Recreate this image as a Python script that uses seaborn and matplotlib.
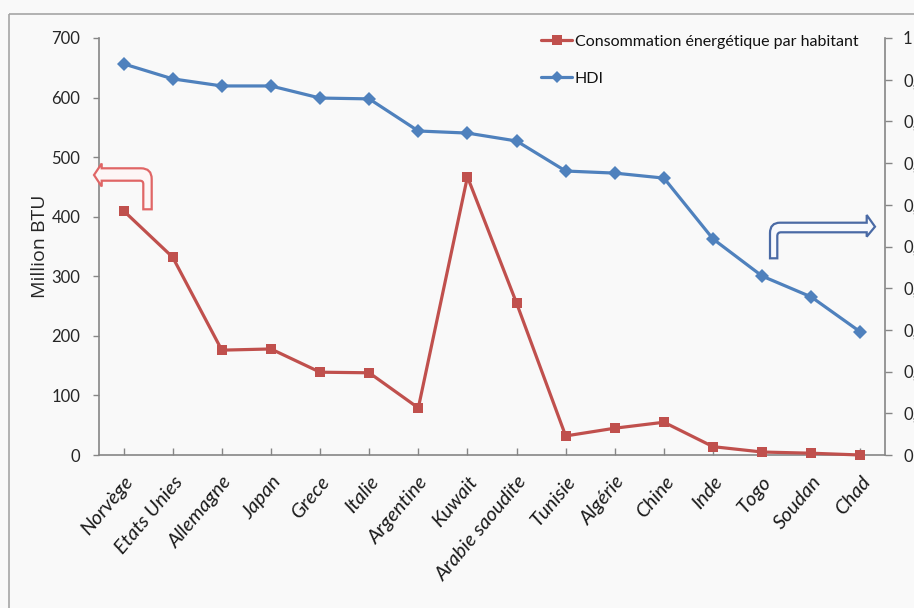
import numpy as np
import pandas as pd
import matplotlib
matplotlib.use("Agg")
import matplotlib.pyplot as plt
import seaborn as sns
from matplotlib.path import Path
from matplotlib.patches import PathPatch, Rectangle
from matplotlib.lines import Line2D
from matplotlib.transforms import Affine2D, ScaledTranslation

# ---- data ----
countries = ["Norvège", "Etats Unies", "Allemagne", "Japan", "Grece", "Italie",
             "Argentine", "Kuwait", "Arabie saoudite", "Tunisie", "Algérie",
             "Chine", "Inde", "Togo", "Soudan", "Chad"]
energy = [410, 332, 176, 178, 139, 138, 79, 467, 255, 32, 45, 55, 14, 5, 3, 0]
hdi = [0.938, 0.902, 0.885, 0.885, 0.856, 0.854, 0.777, 0.772, 0.753,
       0.681, 0.676, 0.664, 0.518, 0.429, 0.379, 0.295]
left_ticks = [0, 100, 200, 300, 400, 500, 600, 700]
right_ticks = [0, 0.1, 0.2, 0.3, 0.4, 0.5, 0.6, 0.7, 0.8, 0.9, 1]
right_tick_labels = ["0", "0,1", "0,2", "0,3", "0,4", "0,5", "0,6", "0,7",
                     "0,8", "0,9", "1"]
energy_label = "Consommation énergétique par habitant"
hdi_label = "HDI"

RED = "#c0504d"
BLUE = "#4f81bd"
AXIS = "#868686"
BG = "#f9f9f9"
TXT = "#262626"

sns.set_theme(style="white")
plt.rcParams["font.family"] = ["Lato", "DejaVu Sans"]

W, H = 914, 608
fig = plt.figure(figsize=(W / 100, H / 100), dpi=100, facecolor=BG)
ax = fig.add_axes([99 / W, 1 - 455 / H, (885 - 99) / W, (455 - 38) / H])
ax.set_facecolor("none")
ax2 = ax.twinx()
ax2.set_facecolor("none")

df = pd.DataFrame({"pos": np.arange(len(countries)), "pays": countries,
                   "energie": energy, "hdi": hdi})

sns.lineplot(data=df, x="pos", y="energie", ax=ax, color=RED, linewidth=2.3,
             marker="s", markersize=7.2, markeredgewidth=0, sort=False,
             clip_on=False, zorder=3)
sns.lineplot(data=df, x="pos", y="hdi", ax=ax2, color=BLUE, linewidth=2.3,
             marker="D", markersize=7, markeredgewidth=0, sort=False,
             clip_on=False, zorder=3)

ax.set_xlim(-0.5, len(countries) - 0.5)
ax.set_ylim(0, 700)
ax2.set_ylim(0, 1)

ax.set_xticks(df["pos"])
ax.set_xticklabels(countries, rotation=50, ha="right", rotation_mode="anchor",
                   fontsize=14.5, style="italic", color="#1a1a1a")
offset = ScaledTranslation(2 / 100, 0, fig.dpi_scale_trans)
for lbl in ax.get_xticklabels():
    lbl.set_transform(lbl.get_transform() + offset)

ax.set_yticks(left_ticks)
ax.set_yticklabels([str(t) for t in left_ticks], fontsize=12, color=TXT)
ax2.set_yticks(right_ticks)
ax2.set_yticklabels(right_tick_labels, fontsize=12, color=TXT)

ax.set_xlabel("")
ax.set_ylabel("Million BTU", fontsize=14, family="Open Sans", color=TXT)
ax.yaxis.set_label_coords((49 - 99) / (885 - 99), 0.5)
ax2.set_ylabel("")

ax.tick_params(axis="x", direction="in", length=5, width=1, color=AXIS,
               pad=13, bottom=True)
ax.tick_params(axis="y", direction="out", length=4, width=1, color=AXIS,
               pad=9.5, left=True)
ax2.tick_params(axis="y", direction="out", length=5, width=1, color=AXIS,
                pad=8, right=True)

for a in (ax, ax2):
    a.spines["top"].set_visible(False)
    for side in ("left", "right", "bottom"):
        a.spines[side].set_color(AXIS)
        a.spines[side].set_linewidth(1.2)
ax.spines["right"].set_visible(False)
ax2.spines["left"].set_visible(False)
ax2.spines["bottom"].set_visible(False)

# ---- legend ----
handles = [
    Line2D([], [], color=RED, lw=2.3, marker="s", markersize=7.2,
           markeredgewidth=0),
    Line2D([], [], color=BLUE, lw=2.3, marker="D", markersize=6,
           markeredgewidth=0),
]
leg = fig.legend(handles, [energy_label, hdi_label], loc="upper left",
                 bbox_to_anchor=(535 / W, 1 - 28 / H), frameon=False,
                 prop={"size": 11.5}, handlelength=1.9,
                 handletextpad=0.2, labelspacing=1.45, borderaxespad=0)
for t in leg.get_texts():
    t.set_color("#111111")

# ---- outer frame and direction arrows (pixel coordinates) ----
px = Affine2D().scale(1 / W, -1 / H).translate(0, 1) + fig.transFigure

fig.add_artist(Rectangle((9, 14), 1200, 900, transform=px, fill=False,
                         edgecolor="#a6a6a6", lw=1.2))

M, L, C, Z = Path.MOVETO, Path.LINETO, Path.CURVE3, Path.CLOSEPOLY

red_verts = [(94, 175), (101.7, 163.5), (101.7, 168.3), (141, 168.3),
             (151.7, 168.3), (151.7, 179), (151.7, 209.3), (143.3, 209.3),
             (143.3, 184), (143.3, 180.7), (140, 180.7), (101.7, 180.7),
             (101.7, 186.5), (94, 175)]
red_codes = [M, L, L, L, C, C, L, L, L, C, C, L, L, Z]
fig.add_artist(PathPatch(Path(red_verts, red_codes), transform=px,
                         facecolor="#fdf6f6", edgecolor="#e06666", lw=1.6))

blue_verts = [(770, 258.3), (770, 233), (770, 222.7), (780, 222.7),
              (866.7, 222.7), (866.7, 215), (875, 226.7), (866.7, 236.7),
              (866.7, 232.3), (781, 232.3), (777.3, 232.3), (777.3, 236),
              (777.3, 258.3), (770, 258.3)]
blue_codes = [M, L, C, C, L, L, L, L, L, L, C, C, L, Z]
fig.add_artist(PathPatch(Path(blue_verts, blue_codes), transform=px,
                         facecolor="#f7f9fd", edgecolor="#4a6aa5", lw=1.6))

fig.savefig("out.png", dpi=100, facecolor=BG)
